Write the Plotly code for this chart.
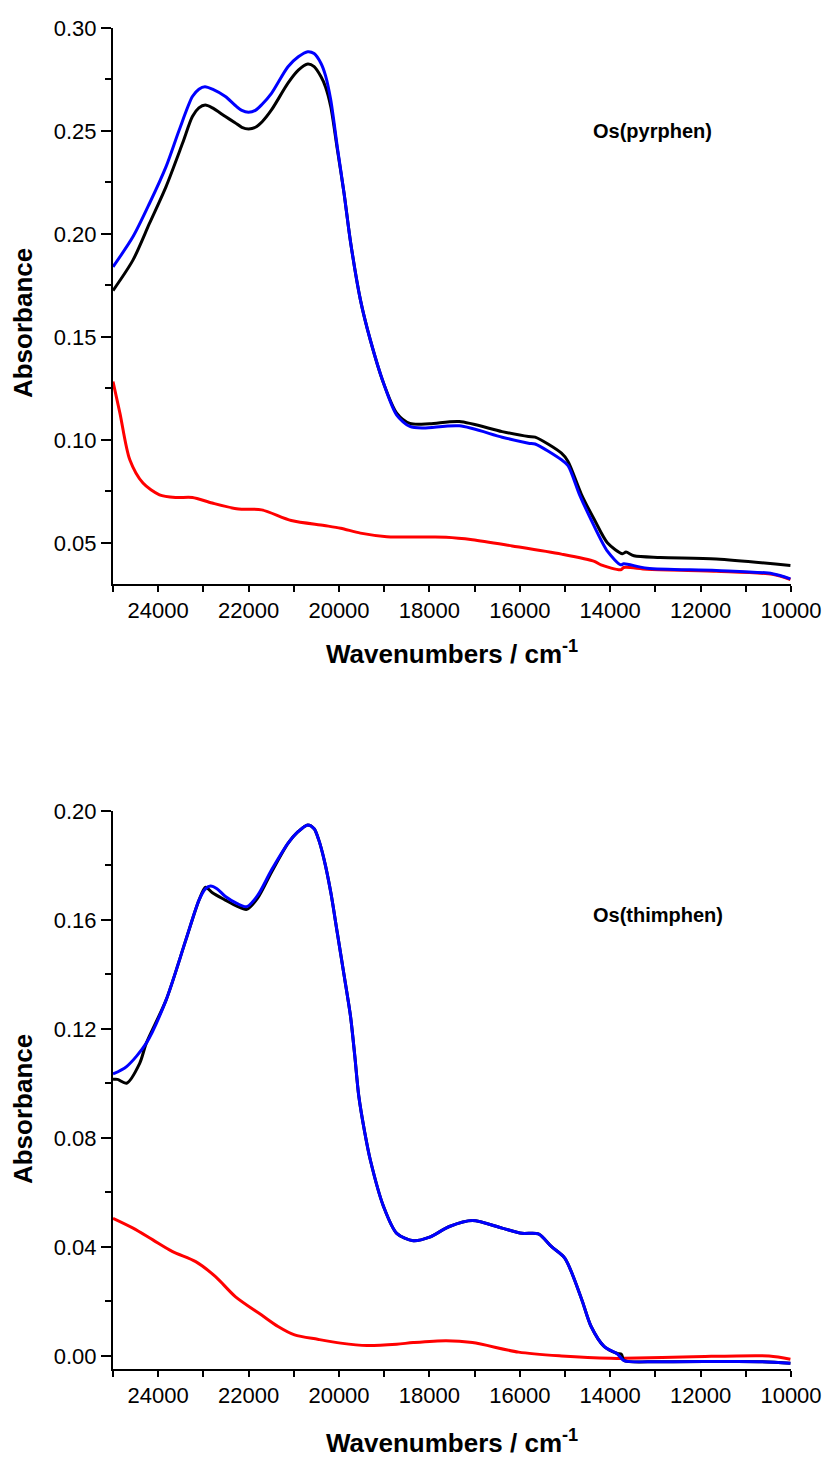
import plotly.graph_objects as go

# ---------------- DATA ----------------
# Top panel: Os(pyrphen)
top_black_wn = [25000, 24556, 24191, 23826, 23462, 23243, 23100, 22960, 22800, 22513, 22300, 22150, 22000,
                21850, 21700, 21494, 21129, 20900, 20690, 20550, 20400, 20300, 20182, 20036, 19889, 19744,
                19526, 19307, 19014, 18723, 18432, 17995, 17339, 16390,
                15808, 15662, 15078, 14933, 14640, 14349, 14058, 13730, 13650, 13475, 12892, 11653, 10013]
top_black_abs = [0.1725, 0.1874, 0.2052, 0.2230, 0.2440, 0.2570, 0.2612, 0.2626, 0.2612, 0.2570, 0.2540, 0.2518, 0.2510,
                 0.2518, 0.2545, 0.2602, 0.2732, 0.2795, 0.2825, 0.2812, 0.2764, 0.2715, 0.2618, 0.2410, 0.2199, 0.1960,
                 0.1680, 0.1485, 0.1275, 0.1130, 0.1080, 0.1078, 0.1089, 0.1040,
                 0.1016, 0.1013, 0.0935, 0.0895, 0.0737, 0.0612, 0.0499, 0.0447, 0.0455, 0.0437, 0.0429, 0.0422, 0.0390]

top_blue_wn = [25000, 24556, 24191, 23826, 23535, 23243, 23100, 22966, 22800, 22513, 22300, 22150, 22004,
               21850, 21700, 21494, 21129, 20900, 20692, 20550, 20400, 20300, 20182, 20036, 19889, 19744,
               19526, 19307, 19014, 18723, 18432, 18140, 17339, 16390,
               15808, 15662, 15078, 14933, 14677, 14422, 14058, 13766, 13700, 13184, 11653, 10412, 10013]
top_blue_abs = [0.1840, 0.1987, 0.2149, 0.2327, 0.2505, 0.2667, 0.2703, 0.2715, 0.2703, 0.2667, 0.2625, 0.2600, 0.2591,
                0.2600, 0.2630, 0.2683, 0.2812, 0.2860, 0.2885, 0.2876, 0.2829, 0.2770, 0.2650, 0.2420, 0.2199, 0.1960,
                0.1680, 0.1485, 0.1275, 0.1120, 0.1065, 0.1057, 0.1068, 0.1013,
                0.0984, 0.0980, 0.0903, 0.0875, 0.0733, 0.0612, 0.0458, 0.0393, 0.0398, 0.0377, 0.0366, 0.0350, 0.0325]

top_red_wn = [25000, 24847, 24628, 24337, 23972, 23607, 23243, 22806, 22222, 21712, 21056, 20327,
              19963, 19526, 18942, 17995, 17630, 17048, 16171, 15078, 14349, 14203, 13766, 13700,
              13184, 11653, 10412, 10013]
top_red_abs = [0.1283, 0.1130, 0.0903, 0.0790, 0.0733, 0.0720, 0.0720, 0.0693, 0.0664, 0.0660, 0.0608, 0.0584,
               0.0571, 0.0547, 0.0530, 0.0528, 0.0527, 0.0515, 0.0485, 0.0445, 0.0410, 0.0393, 0.0369, 0.0380,
               0.0372, 0.0362, 0.0347, 0.0322]

# Bottom panel: Os(thimphen)
bot_blue_wn = [25000, 24700, 24263, 23826, 23388, 23097, 22950, 22842, 22700, 22513, 22250, 22040, 21800,
               21494, 21129, 20900, 20692, 20550, 20450, 20327, 20180, 20036, 19890, 19744, 19650, 19561,
               19430, 19307, 19014, 18723, 18358, 17995, 17557, 17048, 16390,
               15953, 15589, 15297, 15005, 14640, 14422, 14130, 13840, 13694, 12890, 10704, 10013]
bot_blue_abs = [0.1035, 0.1062, 0.1148, 0.1306, 0.1527, 0.1673, 0.1715, 0.1725, 0.1715, 0.1686, 0.1660, 0.1649, 0.1690,
                0.1783, 0.1881, 0.1925, 0.1949, 0.1935, 0.1895, 0.1820, 0.1700, 0.1551, 0.1400, 0.1245, 0.1100, 0.0952,
                0.0820, 0.0719, 0.0548, 0.0450, 0.0423, 0.0436, 0.0475, 0.0497, 0.0469,
                0.0450, 0.0448, 0.0401, 0.0359, 0.0212, 0.0108, 0.0034, 0.0007, -0.0017, -0.0021, -0.0021, -0.0027]

bot_black_wn = [25000, 24900, 24700, 24410, 24263, 23826, 23388, 23097, 22951, 22800, 22513, 22250, 22040, 21800,
                21494, 21129, 20900, 20692, 20550, 20450, 20327, 20180, 20036, 19890, 19744, 19650, 19561,
                19430, 19307, 19014, 18723, 18358, 17995, 17557, 17048, 16390,
                15953, 15589, 15297, 15005, 14640, 14422, 14130, 13840, 13750, 13694, 12890, 10704, 10013]
bot_black_abs = [0.1015, 0.1015, 0.1001, 0.1074, 0.1148, 0.1306, 0.1527, 0.1673, 0.1720, 0.1700, 0.1673, 0.1650, 0.1639, 0.1680,
                 0.1775, 0.1881, 0.1925, 0.1949, 0.1935, 0.1895, 0.1820, 0.1700, 0.1551, 0.1400, 0.1245, 0.1100, 0.0952,
                 0.0820, 0.0719, 0.0548, 0.0450, 0.0423, 0.0436, 0.0475, 0.0497, 0.0469,
                 0.0450, 0.0448, 0.0401, 0.0359, 0.0212, 0.0108, 0.0034, 0.0009, 0.0006, -0.0017, -0.0021, -0.0021, -0.0027]

bot_red_wn = [25000, 24556, 24118, 23681, 23170, 22732, 22295, 21712, 21348, 20983, 20473, 19963,
              19380, 18723, 18358, 17630, 17048, 16026, 15078, 13985, 13694, 12163, 10485, 10013]
bot_red_abs = [0.0505, 0.0469, 0.0426, 0.0383, 0.0346, 0.0291, 0.0218, 0.0150, 0.0108, 0.0077, 0.0061, 0.0047,
               0.0038, 0.0043, 0.0049, 0.0056, 0.0049, 0.0014, 0.0000, -0.0009, -0.0009, -0.0003, 0.0000, -0.0012]

panel_labels = ["Os(pyrphen)", "Os(thimphen)"]
x_title = "Wavenumbers / cm<sup>-1</sup>"
y_title = "Absorbance"

# ---------------- FIGURE ----------------
FONT = "Liberation Sans, Arial, sans-serif"
LW = 3

fig = go.Figure()

def add(x, y, color, xa, ya):
    fig.add_trace(go.Scatter(x=x, y=y, mode="lines", xaxis=xa, yaxis=ya,
                             line=dict(color=color, width=LW, shape="spline", smoothing=0.8),
                             showlegend=False, hoverinfo="skip"))

add(top_red_wn, top_red_abs, "#ff0000", "x", "y")
add(top_black_wn, top_black_abs, "#000000", "x", "y")
add(top_blue_wn, top_blue_abs, "#0000ff", "x", "y")
add(bot_red_wn, bot_red_abs, "#ff0000", "x2", "y2")
add(bot_black_wn, bot_black_abs, "#000000", "x2", "y2")
add(bot_blue_wn, bot_blue_abs, "#0000ff", "x2", "y2")

W, H = 834, 1457
ML, MR, MT, MB = 113, 35, 28, 88
plot_h = H - MT - MB

def xaxis_cfg(anchor):
    return dict(anchor=anchor, domain=[0, 1], range=[25000, 10000], autorange=False,
                showline=True, linecolor="black", linewidth=2, mirror=False,
                showgrid=False, zeroline=False,
                ticks="outside", ticklen=6, tickwidth=2, tickcolor="black",
                dtick=2000, tick0=0, tickformat="d",
                minor=dict(dtick=1000, tick0=0, ticks="outside", ticklen=6, tickwidth=2, tickcolor="black"),
                tickfont=dict(family=FONT, size=22, color="black"))

def yaxis_cfg(anchor, domain, rng, dt):
    return dict(anchor=anchor, domain=domain, range=rng, autorange=False,
                showline=True, linecolor="black", linewidth=2, mirror=False,
                showgrid=False, zeroline=False,
                ticks="outside", ticklen=10, tickwidth=2, tickcolor="black",
                dtick=dt, tick0=0, tickformat=".2f",
                minor=dict(dtick=dt / 2, tick0=0, ticks="outside", ticklen=6, tickwidth=2, tickcolor="black"),
                tickfont=dict(family=FONT, size=22, color="black"))

top_dom = [(1369 - 584) / plot_h, 1.0]
bot_dom = [0.0, (1369 - 811) / plot_h]

fig.update_layout(
    width=W, height=H,
    margin=dict(l=ML, r=MR, t=MT, b=MB, pad=0),
    paper_bgcolor="white", plot_bgcolor="white",
    xaxis=xaxis_cfg("y"),
    yaxis=yaxis_cfg("x", top_dom, [0.03, 0.30], 0.05),
    xaxis2=xaxis_cfg("y2"),
    yaxis2=yaxis_cfg("x2", bot_dom, [-0.0048, 0.20], 0.04),
    font=dict(family=FONT, color="black"),
)

def py2paper(py):
    return (H - MB - py) / plot_h

def px2paper(px):
    return (px - ML) / (W - ML - MR)

ann = []
# y titles
for cy in (323, 1109):
    ann.append(dict(text="<b>%s</b>" % y_title, xref="paper", yref="paper",
                    x=px2paper(22), y=py2paper(cy), xanchor="center", yanchor="middle",
                    textangle=-90, showarrow=False, font=dict(family=FONT, size=26, color="black")))
# x titles
for cy in (652, 1441):
    ann.append(dict(text="<b>%s</b>" % x_title, xref="paper", yref="paper",
                    x=px2paper(456), y=py2paper(cy), xanchor="center", yanchor="middle",
                    showarrow=False, font=dict(family=FONT, size=26, color="black")))
# panel labels
for lab, cy in zip(panel_labels, (131, 915)):
    ann.append(dict(text="<b>%s</b>" % lab, xref="paper", yref="paper",
                    x=px2paper(597), y=py2paper(cy), xanchor="left", yanchor="middle",
                    showarrow=False, font=dict(family=FONT, size=20, color="black")))
fig.update_layout(annotations=ann)

fig.write_html("out.html")
